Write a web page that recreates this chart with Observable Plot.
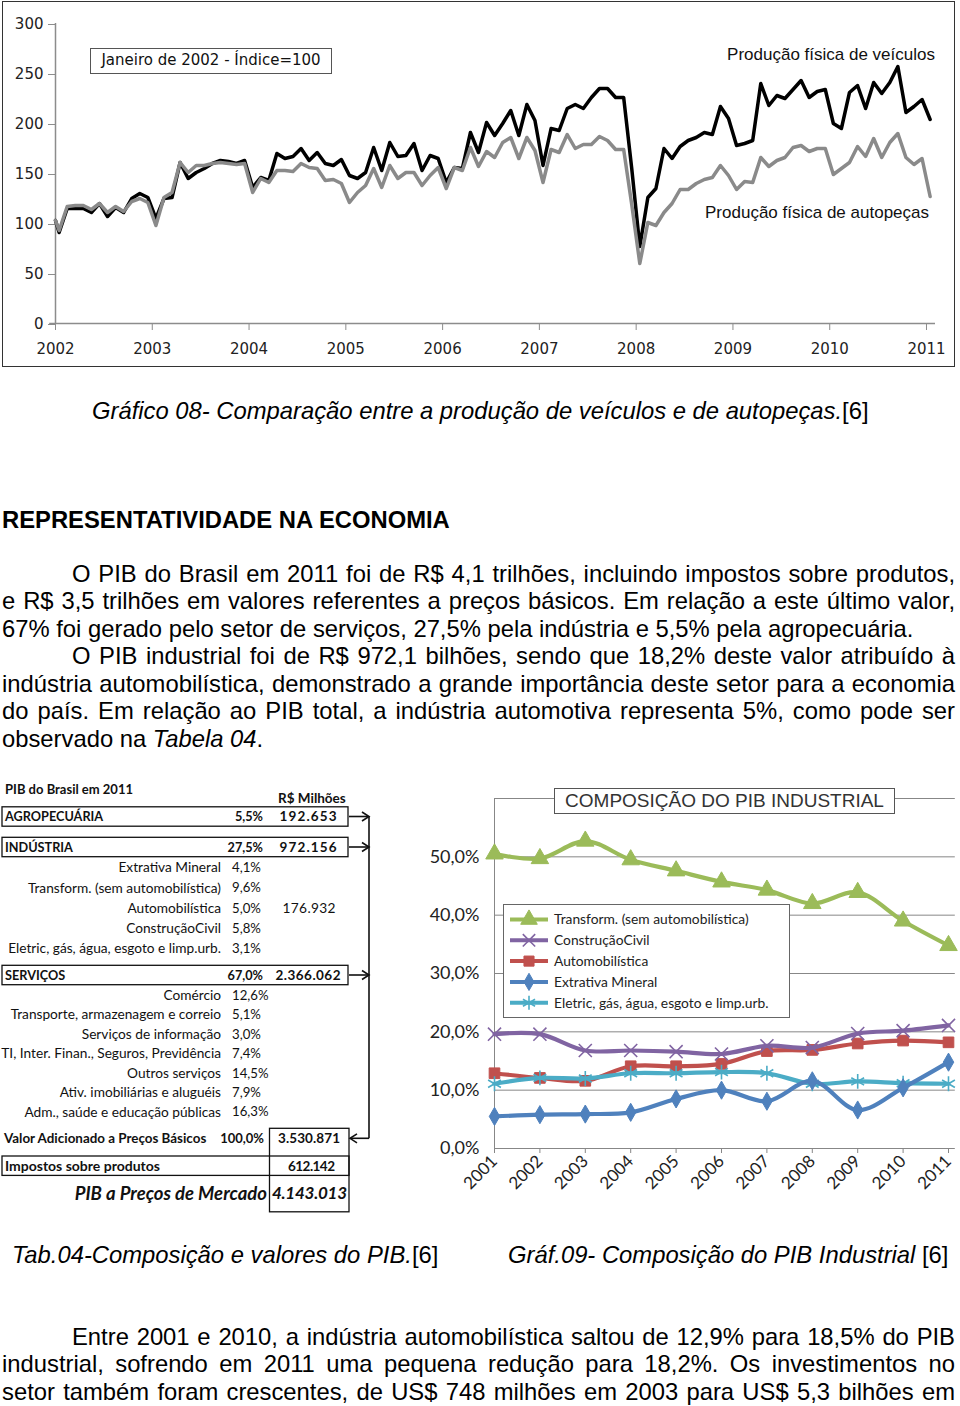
<!DOCTYPE html>
<html><head><meta charset="utf-8">
<script src="https://cdn.jsdelivr.net/npm/d3@7"></script>
<script src="https://cdn.jsdelivr.net/npm/@observablehq/plot@0.6"></script>
<style>
body{margin:0;background:#fff;}
#page{position:relative;width:960px;height:1406px;overflow:hidden;font-family:"Liberation Sans",Arial,sans-serif;color:#000;}
</style></head><body><div id="page"></div>
<script>
// ---------- DATA: Gráfico 08 (monthly index, Jan 2002 = 100) ----------
const topYears = [2002, 2003, 2004, 2005, 2006, 2007, 2008, 2009, 2010, 2011];
const topYTicks = [0, 50, 100, 150, 200, 250, 300];
const vehicles = [103,91,115,115,115,111,120,107,116,111,125,130,126,105,125,126,161,145,151,155,160,163,162,160,163,136,146,143,170,165,167,175,163,171,160,158,164,148,145,151,176,153,181,167,168,180,153,168,165,141,156,155,191,171,201,188,200,213,188,219,203,158,195,193,215,219,215,226,235,235,226,226,155,77,126,135,175,165,177,183,186,191,189,217,205,178,180,183,240,218,228,225,234,243,226,232,234,200,195,231,238,215,241,230,241,257,211,217,224,204];
const autoparts = [103,93,117,118,118,114,120,111,117,112,122,125,121,98,126,131,161,151,158,158,160,161,160,159,160,131,145,141,153,153,152,160,156,155,143,144,140,121,131,138,155,136,158,145,151,151,138,148,156,135,156,153,176,157,172,166,181,186,165,186,173,141,174,171,189,175,179,179,187,183,174,174,119,60,101,98,111,120,134,134,140,144,146,158,148,134,142,141,166,157,163,166,176,178,172,175,175,149,155,161,177,167,185,166,181,190,166,159,165,127];
const topNote = "Janeiro de 2002 - Índice=100";
const labelVehicles = "Produção física de veículos";
const labelAutoparts = "Produção física de autopeças";

// ---------- DATA: Gráf.09 Composição do PIB industrial (%) ----------
const pibYears = [2001,2002,2003,2004,2005,2006,2007,2008,2009,2010,2011];
const pibTicks = [0,10,20,30,40,50];
const pibGrid = [0,10,20,30,40,50,60];
const transform = [50.5,49.7,52.7,49.5,47.6,45.7,44.3,42.0,43.9,39.0,34.8];
const construcao = [19.6,19.6,16.8,16.8,16.6,16.2,17.6,17.3,19.7,20.2,21.1];
const automob = [12.9,12.1,11.6,14.1,14.1,14.5,16.7,16.9,18.0,18.5,18.2];
const extrativa = [5.5,5.8,5.9,6.2,8.5,10.0,8.1,11.6,6.6,10.4,14.8];
const eletric = [11.1,12.1,12.0,12.9,12.9,13.1,12.9,11.1,11.5,11.2,11.1];
const seriesNames = ["Transform. (sem automobilística)","ConstruçãoCivil","Automobilística","Extrativa Mineral","Eletric, gás, água, esgoto e limp.urb."];
const pibTitle = "COMPOSIÇÃO DO PIB INDUSTRIAL";

// ---------- DATA: Tabela 04 ----------
const tabTitle = "PIB do Brasil em 2011";
const tabUnit = "R$ Milhões";
const sectors = ["AGROPECUÁRIA","INDÚSTRIA","SERVIÇOS"];
const sectorShares = ["5,5%","27,5%","67,0%"];
const sectorValues = ["192.653","972.156","2.366.062"];
const industrySubs = ["Extrativa Mineral","Transform. (sem automobilística)","Automobilística","ConstruçãoCivil","Eletric, gás, água, esgoto e limp.urb."];
const industryShares = ["4,1%","9,6%","5,0%","5,8%","3,1%"];
const industrySubValues = ["","","176.932","",""];
const serviceSubs = ["Comércio","Transporte, armazenagem e correio","Serviços de informação","TI, Inter. Finan., Seguros, Previdência","Outros serviços","Ativ. imobiliárias e aluguéis","Adm., saúde e educação públicas"];
const serviceShares = ["12,6%","5,1%","3,0%","7,4%","14,5%","7,9%","16,3%"];
const totalLabels = ["Valor Adicionado a Preços Básicos","Impostos sobre produtos","PIB a Preços de Mercado"];
const totalShares = ["100,0%","",""];
const totalValues = ["3.530.871","612.142","4.143.013"];

// ---------- TEXT ----------
const caption1 = [["Gráfico 08- Comparação entre a produção de veículos e de autopeças.","font-style:italic"],["[6]",""]];
const heading = "REPRESENTATIVIDADE NA ECONOMIA";
const para1 = [
  [[["O PIB do Brasil em 2011 foi de R$ 4,1 trilhões, incluindo impostos sobre produtos,",""]], true, true],
  [[["e R$ 3,5 trilhões em valores referentes a preços básicos. Em relação a este último valor,",""]], false, true],
  [[["67% foi gerado pelo setor de serviços, 27,5% pela indústria e 5,5% pela agropecuária.",""]], false, false],
  [[["O PIB industrial foi de R$ 972,1 bilhões, sendo que 18,2% deste valor atribuído à",""]], true, true],
  [[["indústria automobilística, demonstrado a grande importância deste setor para a economia",""]], false, true],
  [[["do país. Em relação ao PIB total, a indústria automotiva representa 5%, como pode ser",""]], false, true],
  [[["observado na ",""],["Tabela 04","font-style:italic"],[".",""]], false, false]
];
const captionTab = [["Tab.04-Composição e valores do PIB.","font-style:italic"],["[6]",""]];
const captionGraf = [["Gráf.09- Composição do PIB Industrial","font-style:italic"],[" [6]",""]];
const para2 = [
  [[["Entre 2001 e 2010, a indústria automobilística saltou de 12,9% para 18,5% do PIB",""]], true, true],
  [[["industrial, sofrendo em 2011 uma pequena redução para 18,2%. Os investimentos no",""]], false, true],
  [[["setor também foram crescentes, de US$ 748 milhões em 2003 para US$ 5,3 bilhões em",""]], false, true]
];

// ================= RENDER =================
const page = document.getElementById("page");
function put(el, left, top) { el.style.position = "absolute"; el.style.left = left + "px"; el.style.top = top + "px"; page.appendChild(el); return el; }

const BODY = 23.8;
function textLine(parts, left, top, width, justify, size = BODY) {
  const d = document.createElement("div");
  d.style.cssText = `font-size:${size}px;line-height:27.5px;white-space:pre;`;
  for (const [txt, st] of parts) { const s = document.createElement("span"); s.textContent = txt; if (st) s.style.cssText = st; d.appendChild(s); }
  put(d, left, top);
  if (justify) {
    const w = d.getBoundingClientRect().width;
    const n = parts.map(p => p[0]).join("").split(" ").length - 1;
    if (n > 0) d.style.wordSpacing = ((width - w) / n) + "px";
  }
  return d;
}

// ---- Top chart ----
const topFrame = document.createElement("div");
topFrame.style.cssText = "width:953px;height:366px;border:1px solid #333;box-sizing:border-box;";
put(topFrame, 2, 1);

const topData = vehicles.map((v, i) => ({t: 2002 + Math.max(0, i - 0.55) / 12, v, a: autoparts[i]}));
const topChart = Plot.plot({
  width: 960, height: 370,
  marginLeft: 55, marginRight: 25, marginTop: 23, marginBottom: 47,
  style: {fontFamily: "DejaVu Sans", fontSize: "15px", color: "#222", background: "transparent", overflow: "visible"},
  x: {domain: [2002, 2011.093]},
  y: {domain: [0, 300]},
  marks: [
    Plot.ruleX([2002], {y1: 0, y2: 300, stroke: "#8c8c8c", strokeWidth: 1.5}),
    Plot.ruleY([0], {x1: 2001.94, x2: 2011.093, stroke: "#8c8c8c", strokeWidth: 1.5}),
    Plot.axisY({ticks: topYTicks, tickSize: 7, tickPadding: 5, stroke: "#8c8c8c", fill: "#222", fontSize: 15, dy: 1, label: null}),
    Plot.axisX({ticks: topYears, tickFormat: d => String(d), tickSize: 7, tickPadding: 13, stroke: "#8c8c8c", fill: "#222", fontSize: 15, label: null}),
    Plot.line(topData, {x: "t", y: "v", stroke: "#000", strokeWidth: 3.5}),
    Plot.line(topData, {x: "t", y: "a", stroke: "#8a8a8a", strokeWidth: 3.5})
  ]
});
put(topChart, 0, 0);

const note = document.createElement("div");
note.textContent = topNote;
note.style.cssText = "width:242px;height:26px;border:1.5px solid #555;box-sizing:border-box;font-family:'DejaVu Sans';font-size:15px;line-height:23px;text-align:center;color:#111;background:#fff;";
put(note, 90, 48);

const lv = document.createElement("div");
lv.textContent = labelVehicles;
lv.style.cssText = "font-size:17px;line-height:20px;color:#111;white-space:nowrap;width:300px;text-align:right;";
put(lv, 935 - 300, 45);
const la = document.createElement("div");
la.textContent = labelAutoparts;
la.style.cssText = "font-size:17px;line-height:20px;color:#111;white-space:nowrap;width:300px;text-align:right;";
put(la, 929 - 300, 203);

// ---- Texts ----
textLine(caption1, 92, 396.5, 0, false);
textLine([[heading, "font-weight:bold"]], 2, 505.5, 0, false);
para1.forEach(([parts, indent, just], i) => {
  const left = indent ? 72 : 2;
  textLine(parts, left, 559.5 + i * 27.5, 955 - left, just);
});
textLine(captionTab, 12, 1240.5, 0, false);
textLine(captionGraf, 508, 1240.5, 0, false);
para2.forEach(([parts, indent, just], i) => {
  const left = indent ? 72 : 2;
  textLine(parts, left, 1322.5 + i * 27.5, 955 - left, just);
});

// ---- Table ----
const tbl = d3.select(page).append("svg").attr("width", 400).attr("height", 450)
  .style("position", "absolute").style("left", "0px").style("top", "775px")
  .style("font-family", "Lato").style("fill", "#111");
const Y = v => v - 775;
function tt(x, y, s, o = {}) {
  const t = tbl.append("text").attr("x", x).attr("y", Y(y)).attr("dy", "0.36em")
    .attr("text-anchor", o.anchor || "start")
    .attr("font-weight", o.bold ? "bold" : null)
    .attr("font-style", o.italic ? "italic" : null)
    .attr("font-size", o.size || 13.7).text(s);
  if (o.len) t.attr("textLength", o.len).attr("lengthAdjust", "spacing");
}
function box(x, y, w, h) {
  tbl.append("rect").attr("x", x).attr("y", Y(y)).attr("width", w).attr("height", h)
    .attr("fill", "none").attr("stroke", "#111").attr("stroke-width", 1.3);
}
function ln(x1, y1, x2, y2) {
  tbl.append("line").attr("x1", x1).attr("y1", Y(y1)).attr("x2", x2).attr("y2", Y(y2))
    .attr("stroke", "#111").attr("stroke-width", 1.6);
}
function arrowHead(x, y, dir) {
  tbl.append("path").attr("d", `M${x - 7 * dir},${Y(y) - 4.5}L${x},${Y(y)}L${x - 7 * dir},${Y(y) + 4.5}`)
    .attr("fill", "none").attr("stroke", "#111").attr("stroke-width", 1.6);
}
tt(5, 789, tabTitle, {bold: true, size: 13});
tt(278, 798, tabUnit, {bold: true, size: 13.5});
const sectorY = [816.5, 847, 975];
const sectorValLen = [57, 57, 65];
sectors.forEach((s, i) => {
  box(2, sectorY[i] - 9.7, 346, 19.4);
  tt(5, sectorY[i], s, {bold: true, size: 12.7});
  tt(263, sectorY[i], sectorShares[i], {bold: true, anchor: "end", size: 12.7});
  tt(308, sectorY[i], sectorValues[i], {bold: true, anchor: "middle", size: 13.5, len: sectorValLen[i]});
  ln(349, sectorY[i], 368, sectorY[i]);
  arrowHead(369, sectorY[i], 1);
});
industrySubs.forEach((s, i) => {
  const y = 867.5 + i * 20.2;
  tt(221, y, s, {anchor: "end"});
  tt(232, y, industryShares[i], {size: 13.2});
  if (industrySubValues[i]) tt(309, y, industrySubValues[i], {anchor: "middle", len: 53});
});
serviceSubs.forEach((s, i) => {
  const y = 995 + i * 19.45;
  tt(221, y, s, {anchor: "end"});
  tt(232, y, serviceShares[i], {size: 13.2});
});
// totals
ln(369, 816.5, 369, 1138.3);
ln(369, 1138.3, 351, 1138.3);
arrowHead(350, 1138.3, -1);
box(269.5, 1128.3, 79.5, 83.5);
box(2, 1156, 347, 19.4);
tt(4, 1138.3, totalLabels[0], {bold: true, size: 13.4});
tt(264, 1138.3, totalShares[0], {bold: true, anchor: "end", size: 13});
tt(309, 1138.3, totalValues[0], {bold: true, anchor: "middle", size: 13.5, len: 62});
tt(5, 1165.7, totalLabels[1], {bold: true, size: 14});
tt(311.5, 1165.7, totalValues[1], {bold: true, anchor: "middle", size: 13.5, len: 47});
tt(267, 1193.3, totalLabels[2], {bold: true, italic: true, anchor: "end", size: 18.5});
tt(309.5, 1193.3, totalValues[2], {bold: true, italic: true, anchor: "middle", size: 17, len: 75});

// ---- Right chart ----
const styles = [
  {v: transform, color: "#9BBB59", symbol: "triangle", r: 6.5, filled: true},
  {v: construcao, color: "#8064A2", symbol: "times", r: 6, filled: false},
  {v: automob, color: "#C0504D", symbol: "square", r: 6, filled: true},
  {v: extrativa, color: "#4F81BD", symbol: "diamond", r: 5.5, filled: true},
  {v: eletric, color: "#4BACC6", symbol: "asterisk", r: 7, filled: false}
];
const drawOrder = [2, 4, 3, 1, 0];
const seriesMarks = [];
drawOrder.forEach(k => {
  const s = styles[k];
  const rows = pibYears.map((y, i) => ({year: y, value: s.v[i]}));
  seriesMarks.push(Plot.line(rows, {x: "year", y: "value", stroke: s.color, strokeWidth: 4.2, curve: "catmull-rom"}));
  seriesMarks.push(Plot.dot(rows, {x: "year", y: "value", symbol: s.symbol, r: s.r,
    fill: s.filled ? s.color : "none", stroke: s.color, strokeWidth: s.filled ? 1 : 1.6}));
});
const pibChart = Plot.plot({
  width: 540, height: 435,
  marginLeft: 74, marginRight: 12, marginTop: 18, marginBottom: 67,
  x: {domain: [2001, 2011]}, y: {domain: [0, 60]},
  style: {fontFamily: "Lato", color: "#222", background: "transparent", overflow: "visible"},
  marks: [
    Plot.ruleY(pibGrid, {x1: 2001, x2: 2011.15, stroke: "#878787", strokeWidth: 1}),
    Plot.ruleX([2001], {y1: 0, y2: 60, stroke: "#878787", strokeWidth: 1}),
    Plot.axisY({ticks: pibTicks, tickFormat: d => d.toFixed(1).replace(".", ",") + "%", tickSize: 0, tickPadding: 15, fontSize: 18, fill: "#222", label: null}),
    Plot.axisX({ticks: pibYears, tickFormat: d => String(d), tickRotate: -45, tickSize: 5, tickPadding: 5, fontSize: 17, stroke: "#878787", fill: "#222", label: null}),
    ...seriesMarks
  ]
});
put(pibChart, 420, 780);

const titleBox = document.createElement("div");
titleBox.textContent = pibTitle;
titleBox.style.cssText = "width:341px;height:26px;border:1px solid #555;box-sizing:border-box;background:#fff;font-size:19px;line-height:24px;text-align:center;color:#333;white-space:nowrap;";
put(titleBox, 554, 788);

// legend
const leg = d3.select(page).append("div")
  .style("position", "absolute").style("left", "503px").style("top", "904px")
  .style("width", "287px").style("height", "114px").style("box-sizing", "border-box")
  .style("border", "1px solid #666").style("background", "#fff");
const legSvg = leg.append("svg").attr("width", 285).attr("height", 112).style("font-family", "Lato");
const symTypes = {triangle: d3.symbolTriangle, times: d3.symbolTimes, square: d3.symbolSquare, diamond: d3.symbolDiamond, asterisk: d3.symbolAsterisk};
seriesNames.forEach((name, i) => {
  const s = styles[i];
  const cy = 14.5 + i * 20.8;
  legSvg.append("line").attr("x1", 6).attr("x2", 44).attr("y1", cy).attr("y2", cy).attr("stroke", s.color).attr("stroke-width", 4);
  const sym = d3.symbol().type(symTypes[s.symbol]).size(s.r * s.r * Math.PI * 0.9);
  legSvg.append("path").attr("d", sym()).attr("transform", `translate(25,${cy})`)
    .attr("fill", s.filled ? s.color : "none").attr("stroke", s.color).attr("stroke-width", s.filled ? 1 : 1.6);
  legSvg.append("text").attr("x", 50).attr("y", cy).attr("dy", "0.36em").attr("font-size", 13.8).attr("fill", "#222").text(name);
});
</script></body></html>
